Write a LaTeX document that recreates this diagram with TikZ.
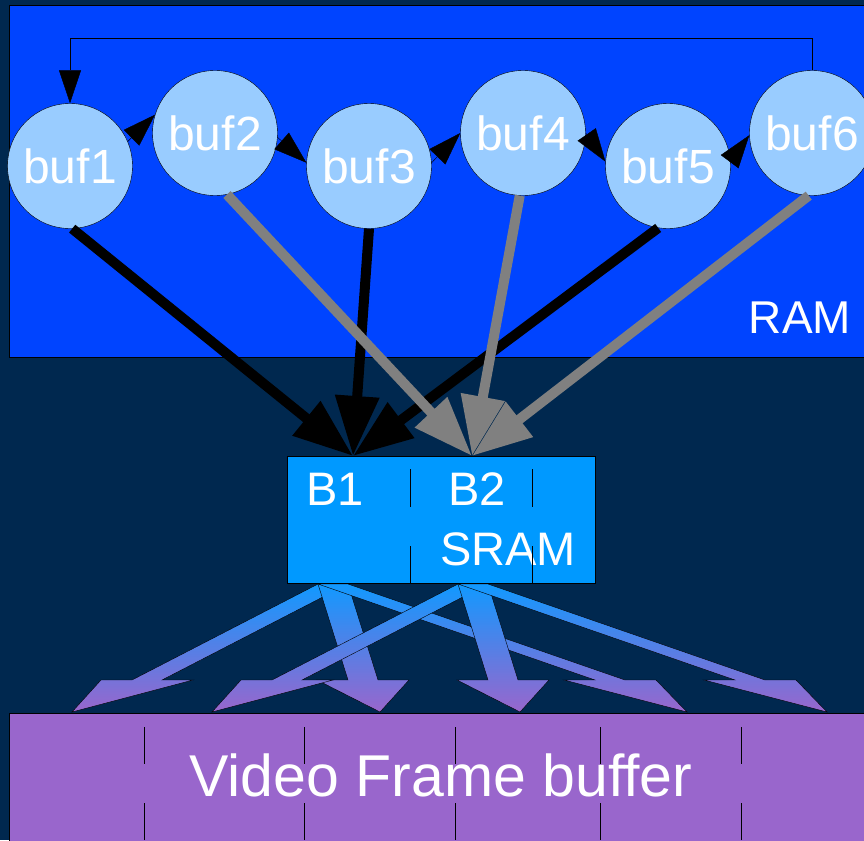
\documentclass[tikz,border=0pt]{standalone}
\usepackage{fontspec}
\setmainfont{Liberation Sans}
\usepackage{xcolor}
\definecolor{navyBack}  {HTML}{00284F}
\definecolor{ramBack}   {HTML}{0044FF}
\definecolor{bufFill}   {HTML}{99CCFF}
\definecolor{sramBack}  {HTML}{0099FF}
\definecolor{videoBack} {HTML}{9966CC}
\definecolor{fanTop}    {HTML}{1199FF}
\definecolor{readGray}  {HTML}{808080}
\usetikzlibrary{arrows.meta, positioning, calc}
\tikzset{
    bufnode/.style={circle, draw, thin, fill=bufFill, minimum size=125pt,
                    inner sep=0pt, text=white, font=\fontsize{48}{52}\selectfont},
    ringedge/.style={-{Triangle[length=33pt, width=22pt]}, thin},
    readedge/.style={-{Triangle[length=60pt, width=42pt]}, line width=10pt},
    fanshade/.style={top color=fanTop, bottom color=videoBack, draw=black, thin},
    divider/.style={thin, black},
}
% one sheared block arrow: shaft top x, shaft shift, tip x
\newcommand{\fanarrow}[3]{%
    \pgfmathsetmacro{\fanL}{#1+#2}%
    \pgfmathsetmacro{\fanR}{#1+#2+30}%
    \pgfmathsetmacro{\headL}{#1+#2-31}%
    \pgfmathsetmacro{\headR}{#1+#2+61}%
    \pgfmathsetmacro{\topR}{#1+30}%
    \shade[fanshade] (#1,584) -- (\fanL,680) -- (\headL,680) -- (#3,712)
        -- (\headR,680) -- (\fanR,680) -- (\topR,584) -- cycle;
}

\begin{document}
\begin{tikzpicture}[
    x=1pt, y=-1pt,
    lbl/.style={text=white, inner sep=0pt},
]
\useasboundingbox (0,0) rectangle (864,840);
\clip (0,0) rectangle (864,840);
\fill[navyBack] (0,0) rectangle (864,840);

% --- RAM with the ring of buffers ---
\draw[fill=ramBack, thin] (9,5) rectangle (880,357);
\node[lbl, font=\fontsize{46}{50}\selectfont] (ram) at (800,318) {RAM};

\node[bufnode] (b1) at (70,166)  {buf1};
\node[bufnode] (b2) at (215,133) {buf2};
\node[bufnode] (b3) at (369,166) {buf3};
\node[bufnode] (b4) at (523,133) {buf4};
\node[bufnode] (b5) at (668,166) {buf5};
\node[bufnode] (b6) at (812,133) {buf6};

\draw[ringedge] (b1.23) -- (b2.163);
\draw[ringedge] (b2.-4) -- (b3.177);
\draw[ringedge] (b3.3)  -- (b4.180);
\draw[ringedge] (b4.0)  -- (b5.176);
\draw[ringedge] (b5.5)  -- (b6.182);
\draw[ringedge] (b6.north) -- ++(0,-32) -| (b1.north);

% --- SRAM double buffer ---
\node[draw, thin, fill=sramBack, minimum width=308pt, minimum height=127pt,
      inner sep=0pt] (sram) at (441,519.5) {};
\coordinate (inB1) at (353,456);
\coordinate (inB2) at (472,456);

\foreach \src in {b1.-88, b3.-90, b5.-99}
    \draw[readedge, black] (\src) -- (inB1);
\foreach \src in {b2.-79, b4.-93, b6.-93}
    \draw[readedge, readGray] (\src) -- (inB2);

\node[lbl, font=\fontsize{47}{50}\selectfont] (lblB1) at (335,489) {B1};
\node[lbl, font=\fontsize{47}{50}\selectfont] (lblB2) at (477,489) {B2};
\node[lbl, font=\fontsize{47}{50}\selectfont] (lblSram) at (508,549) {SRAM};
\foreach \x in {410,532}
    \draw[divider] (\x,469) -- (\x,507) (\x,546) -- (\x,583);

% --- video frame buffer ---
\draw[fill=videoBack, thin] (9,713) rectangle (880,850);
\node[lbl, font=\fontsize{59}{64}\selectfont] (video) at (441,775)
    {Video Frame buffer};
\foreach \x in {144,304,455,600,741}
    \draw[divider] (\x,727) -- (\x,764) (\x,803) -- (\x,840);

\fanarrow{318}{-186}{72}
\fanarrow{318}{30}{380}
\fanarrow{318}{277}{687}
\fanarrow{458}{-186}{212}
\fanarrow{458}{30}{520}
\fanarrow{458}{277}{827}
\end{tikzpicture}
\end{document}
